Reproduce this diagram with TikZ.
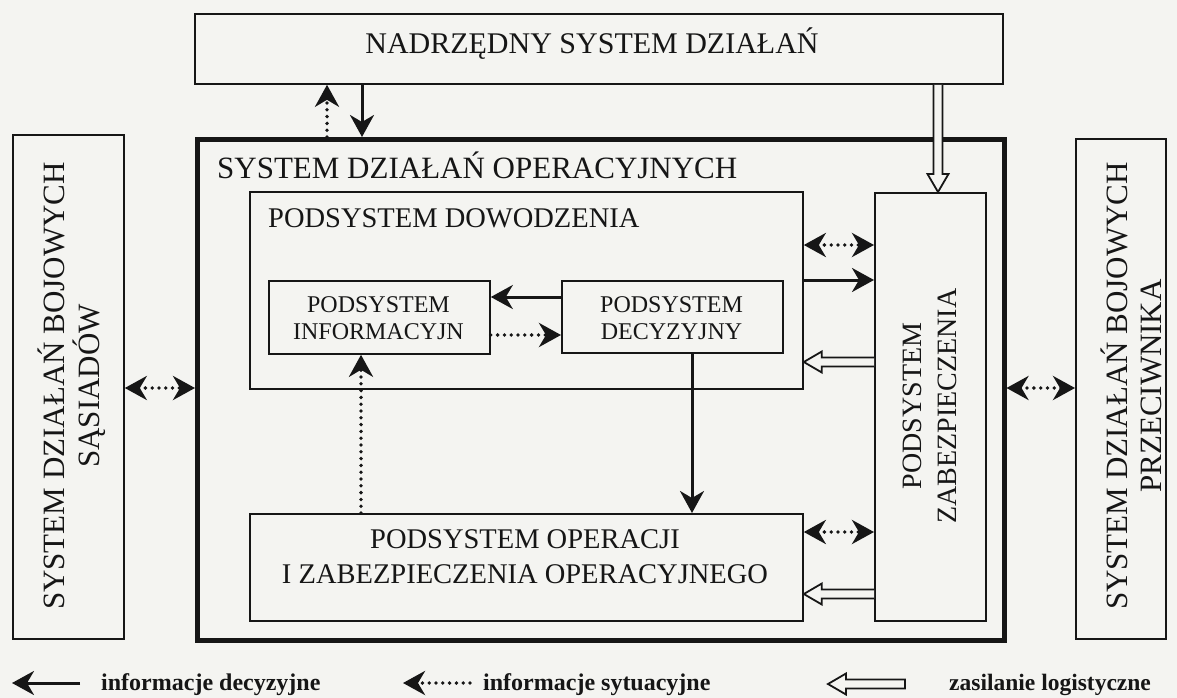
\documentclass[tikz,border=0pt]{standalone}
\usepackage{fontspec}
\setmainfont{Liberation Serif}
\usetikzlibrary{arrows.meta,calc}
\definecolor{paper}{RGB}{244,244,241}
\definecolor{ink}{RGB}{22,22,22}

% hollow supply arrows: tail point, tip point
\newcommand{\supplyleft}[2]{%
  \draw[hollow] ($(#1)+(0,-4.5)$) -- ($(#2)+(18,-4.5)$) -- ($(#2)+(18,-10.5)$) -- (#2)
    -- ($(#2)+(18,10.5)$) -- ($(#2)+(18,4.5)$) -- ($(#1)+(0,4.5)$);}
\newcommand{\supplydown}[2]{%
  \draw[hollow] ($(#1)+(-4.5,0)$) -- ($(#2)+(-4.5,-18)$) -- ($(#2)+(-10.5,-18)$) -- (#2)
    -- ($(#2)+(10.5,-18)$) -- ($(#2)+(4.5,-18)$) -- ($(#1)+(4.5,0)$);}

\begin{document}
\begin{tikzpicture}[x=1pt,y=-1pt,
  box/.style={draw=ink, line width=1.8pt, inner sep=0pt, anchor=north west},
  lab/.style={inner sep=0pt, text=ink},
  tip/.tip={Stealth[length=22pt,width=24pt,inset=7pt]},
  solidarr/.style={draw=ink, line width=3pt, -tip},
  dotline/.style={draw=ink, line width=3.8pt, line cap=round, dash pattern=on 0pt off 6.8pt},
  dotarr/.style={dotline, -tip},
  dotboth/.style={dotline, tip-tip},
  hollow/.style={draw=ink, line width=1.8pt, fill=paper, line join=miter},
]
\fill[paper] (0,0) rectangle (1177,698);
\useasboundingbox (0,0) rectangle (1177,698);

% boxes
\node[box, minimum width=808pt, minimum height=70pt] (top) at (194,13) {};
\node[box, line width=4.5pt, minimum width=807pt, minimum height=501pt] (ops) at (195,137) {};
\node[box, minimum width=111pt, minimum height=504pt] (left) at (12,134) {};
\node[box, minimum width=90pt, minimum height=500pt] (right) at (1075,138) {};
\node[box, minimum width=553pt, minimum height=197pt] (dow) at (249,191) {};
\node[box, minimum width=221pt, minimum height=73pt] (inf) at (268,280) {};
\node[box, minimum width=221pt, minimum height=72pt] (dec) at (561,280) {};
\node[box, minimum width=111pt, minimum height=428pt] (zab) at (874,192) {};
\node[box, minimum width=553pt, minimum height=107pt] (ope) at (249,513) {};

% texts
\node[lab, anchor=base, font=\fontsize{30}{34}\selectfont] (ttop) at (592,54) {NADRZĘDNY SYSTEM DZIAŁAŃ};
\node[lab, anchor=base west, font=\fontsize{31}{34}\selectfont] (tops) at (217,178) {SYSTEM DZIAŁAŃ OPERACYJNYCH};
\node[lab, anchor=base west, font=\fontsize{28.5}{32}\selectfont] (tdow) at (268,227) {PODSYSTEM DOWODZENIA};
\node[lab, align=center, font=\fontsize{24}{27}\selectfont] (tinf) at (378.5,318) {PODSYSTEM\\INFORMACYJN};
\node[lab, align=center, font=\fontsize{24}{27}\selectfont] (tdec) at (671.5,318) {PODSYSTEM\\DECYZYJNY};
\node[lab, align=center, font=\fontsize{28.5}{35}\selectfont] (tope) at (525,557) {PODSYSTEM OPERACJI\\I ZABEZPIECZENIA OPERACYJNEGO};
\node[lab, align=center, rotate=90, font=\fontsize{28}{35}\selectfont] (tzab) at (930,406) {PODSYSTEM\\ZABEZPIECZENIA};
\node[lab, align=center, rotate=90, font=\fontsize{31}{35}\selectfont] (tleft) at (72,386) {SYSTEM DZIAŁAŃ BOJOWYCH\\SĄSIADÓW};
\node[lab, align=center, rotate=90, font=\fontsize{31}{34}\selectfont] (tright) at (1131,386) {SYSTEM DZIAŁAŃ BOJOWYCH\\PRZECIWNIKA};

% connectors between the superior system and the operational system
\draw[dotarr] (ops.north -| 327,0) -- (top.south -| 327,0);
\draw[solidarr] (top.south -| 362,0) -- (ops.north -| 362,0);
\supplydown{top.south -| 938,0}{zab.north -| 938,0}

% neighbours and adversary
\draw[dotboth] (left.east |- 0,388) -- (ops.west |- 0,388);
\draw[dotboth] (ops.east |- 0,388) -- (right.west |- 0,388);

% command subsystem
\draw[solidarr] (dec.west |- 0,297) -- (inf.east |- 0,297);
\draw[dotarr] (inf.east |- 0,335) -- (dec.west |- 0,335);
\draw[solidarr] (dec.south -| 692,0) -- (ope.north -| 692,0);
\draw[dotarr] (ope.north -| 361,0) -- (inf.south -| 361,0);

% support subsystem links
\draw[dotboth] (dow.east |- 0,245) -- (zab.west |- 0,245);
\draw[solidarr] (dow.east |- 0,280) -- (zab.west |- 0,280);
\supplyleft{zab.west |- 0,362}{dow.east |- 0,362}
\draw[dotboth] (ope.east |- 0,532) -- (zab.west |- 0,532);
\supplyleft{zab.west |- 0,594}{ope.east |- 0,594}

% legend
\coordinate (la) at (12,683);
\coordinate (lb) at (80,683);
\draw[solidarr] (lb) -- (la);
\node[lab, anchor=base west, font=\bfseries\fontsize{24}{26}\selectfont] (lta) at (101,690) {informacje decyzyjne};
\coordinate (lc) at (403,683);
\coordinate (ld) at (470,683);
\draw[dotarr] (ld) -- (lc);
\node[lab, anchor=base west, font=\bfseries\fontsize{24}{26}\selectfont] (ltb) at (483,690) {informacje sytuacyjne};
\coordinate (le) at (828,684);
\coordinate (lf) at (905,684);
\draw[hollow] ($(lf)+(0,-4.5)$) -- ($(le)+(18,-4.5)$) -- ($(le)+(18,-10.5)$) -- (le)
    -- ($(le)+(18,10.5)$) -- ($(le)+(18,4.5)$) -- ($(lf)+(0,4.5)$) -- cycle;
\node[lab, anchor=base west, font=\bfseries\fontsize{23.5}{26}\selectfont] (ltc) at (949,690) {zasilanie logistyczne};
\end{tikzpicture}
\end{document}
